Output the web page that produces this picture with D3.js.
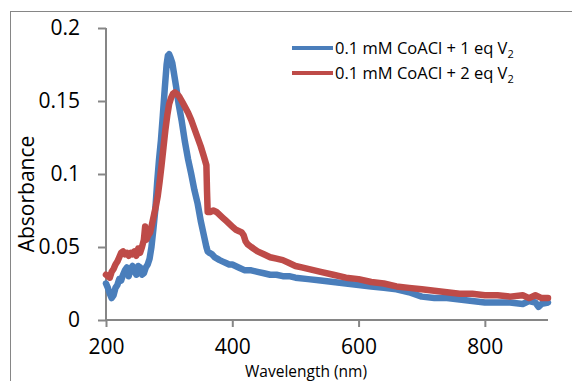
<!DOCTYPE html>
<html><head><meta charset="utf-8">
<script src="https://cdn.jsdelivr.net/npm/d3@7"></script>
<style>body{margin:0;background:#fff;}svg{display:block;font-family:"Open Sans",sans-serif;}</style>
</head><body><svg id="c" width="572" height="381"></svg>
<script>
const xTicks = [200, 400, 600, 800];
const yTicks = [0, 0.05, 0.1, 0.15, 0.2];
const seriesNames = ["0.1 mM CoACl + 1 eq V", "0.1 mM CoACl + 2 eq V"];
const seriesColors = ["#4A7EBB", "#BE4B48"];
const blueWl = [200,203,206,209,212,215,218,221,224,227,230,233,236,239,242,245,248,251,254,257,260,263,266,269,272,275,278,281,284,287,290,293,296,298,300,302,305,308,311,315,320,325,330,335,340,345,350,355,359,361,364,368,372,376,380,385,390,395,400,410,420,430,440,450,460,470,480,490,500,520,540,560,580,600,620,640,660,680,700,720,740,760,780,800,820,840,860,870,880,885,890,900];
const blueAbs = [0.025,0.022,0.018,0.015,0.017,0.022,0.024,0.028,0.027,0.031,0.034,0.036,0.030,0.035,0.037,0.034,0.031,0.037,0.036,0.031,0.032,0.036,0.038,0.042,0.050,0.062,0.075,0.094,0.110,0.123,0.140,0.158,0.175,0.181,0.182,0.180,0.176,0.168,0.160,0.148,0.136,0.122,0.110,0.100,0.089,0.080,0.068,0.058,0.050,0.047,0.046,0.045,0.043,0.042,0.041,0.040,0.039,0.038,0.038,0.036,0.034,0.034,0.033,0.032,0.031,0.031,0.030,0.030,0.029,0.028,0.027,0.026,0.025,0.024,0.023,0.022,0.021,0.019,0.016,0.015,0.015,0.014,0.013,0.012,0.012,0.012,0.011,0.013,0.012,0.009,0.011,0.012];
const redWl = [200,203,206,209,212,215,218,221,224,227,230,233,236,239,242,245,248,251,254,257,260,262,264,267,270,273,276,279,282,285,288,291,294,297,300,303,306,309,312,316,320,325,330,335,340,345,350,355,359,360,361,365,370,375,380,385,390,395,400,405,410,415,418,421,424,430,440,450,460,470,480,490,500,510,520,540,560,580,600,620,640,660,680,700,720,740,760,780,800,820,840,860,870,880,890,900];
const redAbs = [0.031,0.030,0.029,0.033,0.035,0.038,0.040,0.043,0.046,0.047,0.045,0.046,0.044,0.046,0.045,0.047,0.044,0.049,0.046,0.050,0.055,0.064,0.055,0.058,0.060,0.066,0.072,0.078,0.085,0.095,0.106,0.118,0.130,0.140,0.148,0.152,0.155,0.156,0.155,0.153,0.150,0.146,0.142,0.137,0.131,0.125,0.119,0.112,0.106,0.088,0.074,0.074,0.075,0.074,0.072,0.070,0.068,0.066,0.064,0.062,0.061,0.060,0.058,0.054,0.052,0.050,0.047,0.045,0.043,0.042,0.041,0.039,0.037,0.036,0.035,0.033,0.031,0.029,0.028,0.026,0.025,0.023,0.022,0.021,0.020,0.019,0.018,0.018,0.017,0.017,0.016,0.017,0.015,0.017,0.015,0.015];

const svg = d3.select("#c");
const axisColor = "#868686";

// outer frame
svg.append("rect").attr("x",10.5).attr("y",11.5).attr("width",600).attr("height",400)
  .attr("fill","none").attr("stroke",axisColor).attr("stroke-width",1);

const x = d3.scaleLinear().domain([200,900]).range([106,548]);
const y = d3.scaleLinear().domain([0,0.2]).range([320,28]);

const series = [
  {name: seriesNames[0], color: seriesColors[0], pts: blueWl.map((w,i)=>[w, blueAbs[i]])},
  {name: seriesNames[1], color: seriesColors[1], pts: redWl.map((w,i)=>[w, redAbs[i]])}
];

// axes
const gy = svg.append("g").attr("transform","translate(106,0)")
  .call(d3.axisLeft(y).tickValues(yTicks).tickSize(8).tickPadding(18).tickFormat(d=>d===0?"0":String(d)));
const gx = svg.append("g").attr("transform","translate(0,320)")
  .call(d3.axisBottom(x).tickValues(xTicks).tickSize(7).tickPadding(12).tickFormat(d3.format("d")));
[gx, gy].forEach(g=>{
  g.select(".domain").attr("stroke",axisColor).attr("stroke-width",2);
  g.selectAll(".tick line").attr("stroke",axisColor).attr("stroke-width",2);
  g.selectAll("text").attr("fill","#000").style("font-size","21px").style("font-family","'Open Sans',sans-serif");
});
gx.select(".domain").attr("d","M106,0H548");
gy.select(".domain").attr("d","M0,28V320");

// lines
const line = d3.line().x(d=>x(d[0])).y(d=>y(d[1]));
series.forEach(s=>{
  svg.append("path").datum(s.pts).attr("d",line).attr("fill","none")
    .attr("stroke",s.color).attr("stroke-width",6.5).attr("stroke-linejoin","round").attr("stroke-linecap","round");
});

// axis titles
svg.append("text").attr("transform","translate(34,194) rotate(-90)").attr("text-anchor","middle")
  .style("font-size","21px").text("Absorbance");
svg.append("text").attr("x",306).attr("y",376.5).attr("text-anchor","middle")
  .style("font-size","15.5px").text("Wavelength (nm)");

// legend
series.forEach((s,i)=>{
  const ly = 48 + i*25;
  svg.append("line").attr("x1",292).attr("x2",333).attr("y1",ly).attr("y2",ly)
    .attr("stroke",s.color).attr("stroke-width",4);
  const t = svg.append("text").attr("x",335).attr("y",ly+6).style("font-size","16.5px");
  t.append("tspan").text(s.name);
  t.append("tspan").attr("dy",4).style("font-size","11px").text("2");
});
</script></body></html>
